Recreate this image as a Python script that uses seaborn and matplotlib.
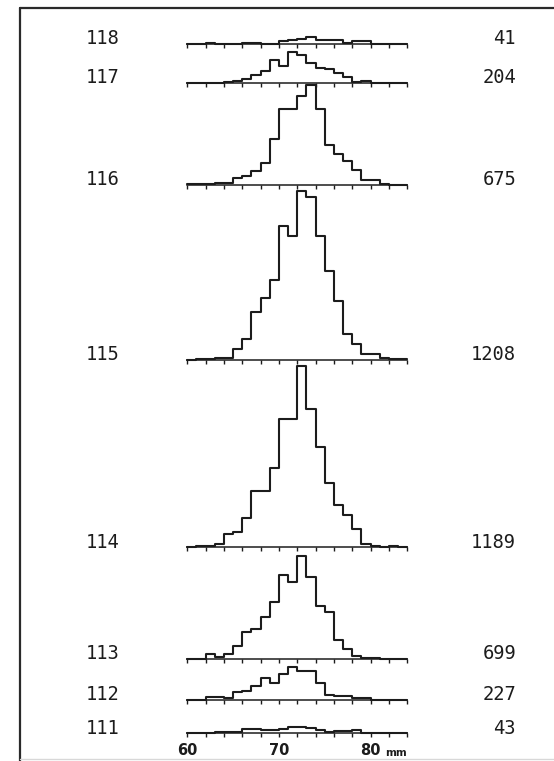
import numpy as np
import pandas as pd
import matplotlib
matplotlib.use("Agg")
import matplotlib.pyplot as plt
import seaborn as sns
from matplotlib.lines import Line2D

# ---------------- data ----------------
bin_edges = list(range(60, 85))          # 1 mm bins, 60..84 mm
groups = ["118", "117", "116", "115", "114", "113", "112", "111"]
totals = ["41", "204", "675", "1208", "1189", "699", "227", "43"]

counts_118 = [0, 0, 1, 0, 0, 0, 1, 1, 0, 0, 3, 4, 5, 7, 4, 4, 4, 1, 3, 3, 0, 0, 0, 0]
counts_117 = [0, 0, 0, 0, 1, 2, 4, 8, 13, 25, 18, 33, 30, 21, 16, 15, 10, 6, 1, 2, 0, 0, 0, 0]
counts_116 = [1, 1, 1, 2, 2, 7, 9, 15, 24, 50, 82, 82, 97, 109, 83, 43, 33, 26, 16, 5, 5, 1, 0, 0]
counts_115 = [0, 1, 1, 2, 2, 12, 23, 53, 68, 87, 146, 135, 185, 178, 135, 97, 64, 28, 18, 7, 7, 2, 1, 1]
counts_114 = [0, 1, 1, 3, 14, 16, 32, 61, 61, 86, 140, 140, 198, 151, 109, 70, 46, 35, 20, 3, 1, 0, 1, 0]
counts_113 = [0, 0, 5, 2, 5, 14, 29, 32, 45, 62, 91, 84, 112, 89, 57, 51, 20, 10, 3, 1, 1, 0, 0, 0]
counts_112 = [0, 0, 3, 3, 2, 8, 9, 15, 23, 18, 28, 35, 31, 31, 18, 5, 4, 4, 2, 2, 0, 0, 0, 0]
counts_111 = [0, 0, 0, 1, 1, 1, 4, 4, 3, 3, 4, 7, 7, 6, 3, 1, 2, 2, 3, 0, 0, 0, 0, 0]

all_counts = [counts_118, counts_117, counts_116, counts_115,
              counts_114, counts_113, counts_112, counts_111]

x_ticks = list(range(60, 85, 2))
x_labels = ["60", "", "", "", "", "70", "", "", "", "", "80", "", ""]

# ---------------- layout ----------------
W, H = 554, 761
baselines = [43.5, 82.5, 184.5, 360.0, 547.0, 658.5, 699.5, 733.0]   # px from top
x0px, x1px = 187.3, 407.3
px_per_count = 0.915

sns.set_style("white")
plt.rcParams["font.family"] = ["DejaVu Sans Mono", "DejaVu Sans"]

fig = plt.figure(figsize=(W / 100, H / 100), dpi=100)
fig.patch.set_facecolor("white")

ink = "#1c1c1c"
centers = [e + 0.5 for e in bin_edges[:-1]]

for i, (name, tot, cnt, base) in enumerate(zip(groups, totals, all_counts, baselines)):
    hpx = max(cnt) * px_per_count + 6
    ax = fig.add_axes([x0px / W, 1 - base / H, (x1px - x0px) / W, hpx / H])
    ax.patch.set_alpha(0)
    df = pd.DataFrame({"length": centers, "n": cnt})
    sns.histplot(data=df, x="length", weights="n", bins=bin_edges,
                 element="step", fill=False, color=ink, linewidth=1.5, ax=ax)
    ax.set_xlim(60, 84)
    ax.set_ylim(0, hpx / px_per_count)
    for art in list(ax.lines) + list(ax.patches) + list(ax.collections):
        art.set_clip_on(False)
    for s in ["left", "right", "top"]:
        ax.spines[s].set_visible(False)
    ax.spines["bottom"].set_color(ink)
    ax.spines["bottom"].set_linewidth(1.1)
    ax.set_yticks([])
    ax.set_ylabel("")
    ax.set_xlabel("")
    ax.set_xticks(x_ticks)
    last = (i == len(groups) - 1)
    ax.tick_params(axis="x", direction="out", length=2.6, width=1.0, color=ink,
                   bottom=True, labelbottom=last, pad=4.5,
                   labelsize=10.5, labelcolor=ink)
    if last:
        ax.set_xticklabels(x_labels, fontweight="bold",
                           fontfamily=["DejaVu Sans", "DejaVu Sans Mono"])
    fig.text(103 / W, 1 - (base - 5) / H, name, ha="center", va="center",
             fontsize=13.5, color=ink)
    fig.text(516 / W, 1 - (base - 5) / H, tot, ha="right", va="center",
             fontsize=13.5, color=ink)

# unit label at the end of the bottom axis
fig.text(407 / W, 1 - 753 / H, "mm", ha="right", va="center",
         fontsize=7.5, fontweight="bold", color=ink,
         fontfamily=["DejaVu Sans", "DejaVu Sans Mono"])

# frame lines
fig.add_artist(Line2D([20 / W, 1.0], [1 - 8 / H, 1 - 8 / H], transform=fig.transFigure,
                      color="#2a2a2a", linewidth=1.6))
fig.add_artist(Line2D([20 / W, 20 / W], [1 - 8 / H, 0.0], transform=fig.transFigure,
                      color="#2a2a2a", linewidth=1.6))
fig.add_artist(Line2D([20 / W, 1.0], [1 - 759 / H, 1 - 759 / H], transform=fig.transFigure,
                      color="#d8d8d8", linewidth=1.0))

fig.savefig("out.png", dpi=100, facecolor="white")
